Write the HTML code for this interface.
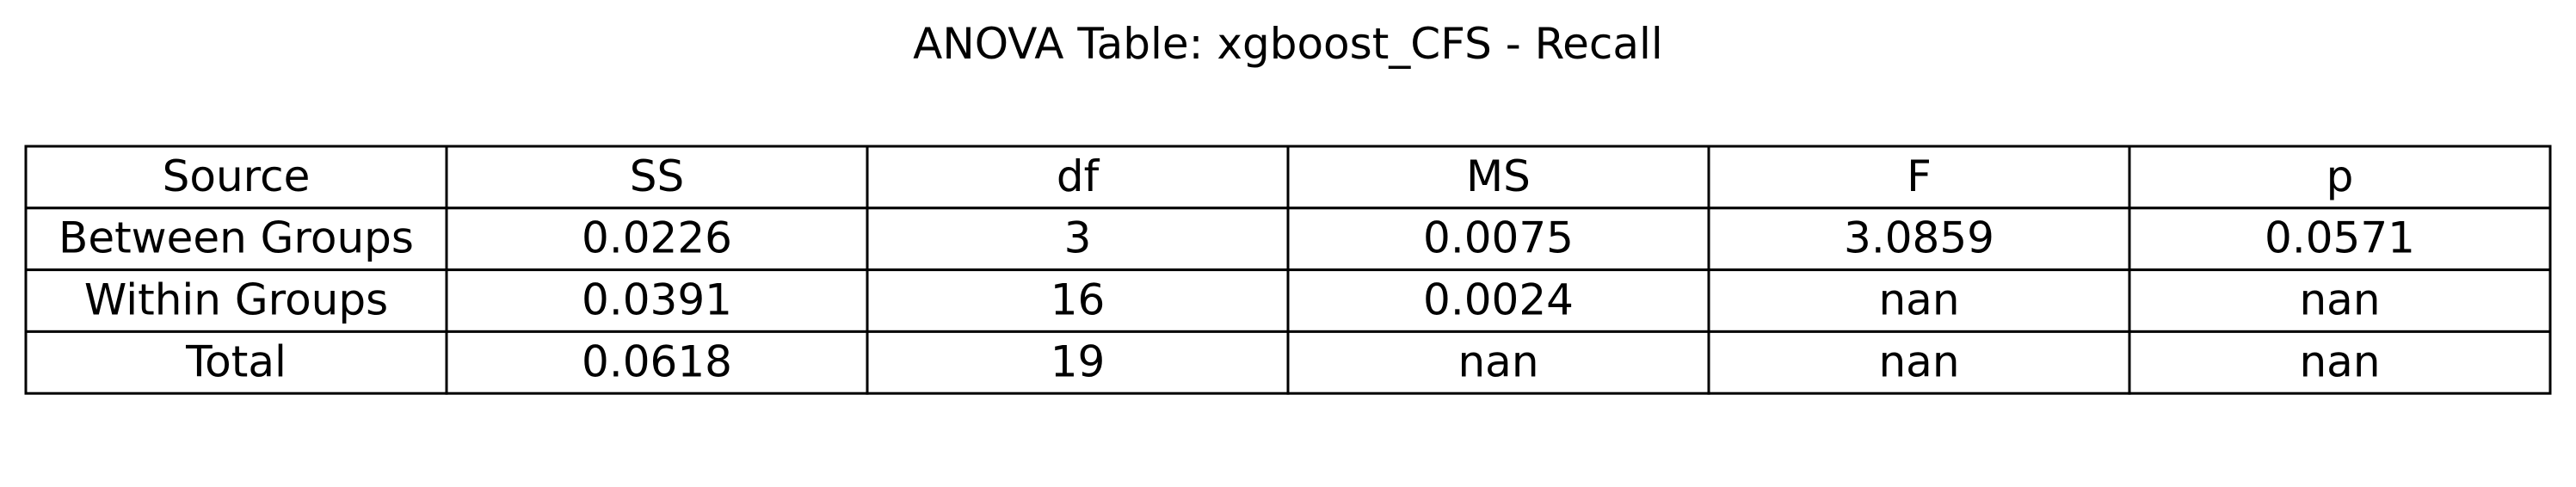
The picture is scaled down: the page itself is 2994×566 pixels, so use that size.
<!DOCTYPE html>
<html><head><meta charset="utf-8"><style>
html,body{margin:0;padding:0;background:#fff;}
svg{display:block;}
text{font-family:"DejaVu Sans","Liberation Sans",sans-serif;fill:#000;}
</style></head><body>
<svg id="chart" width="2994" height="566" viewBox="0 0 2994 566">
<text x="1497" y="68" text-anchor="middle" font-size="50">ANOVA Table: xgboost_CFS - Recall</text>
<g id="tbl"></g>
</svg>
<script>
const headers = ["Source","SS","df","MS","F","p"];
const rowSource = ["Between Groups","Within Groups","Total"];
const rowSS = ["0.0226","0.0391","0.0618"];
const rowDf = ["3","16","19"];
const rowMS = ["0.0075","0.0024","nan"];
const rowF = ["3.0859","nan","nan"];
const rowP = ["0.0571","nan","nan"];

const NS = "http://www.w3.org/2000/svg";
const tblG = document.getElementById("tbl");
const tLeft = 30, tTop = 170, colW = 489, rowH = 71.8;
const allRows = [headers];
for (let i = 0; i < rowSource.length; i++) allRows.push([rowSource[i], rowSS[i], rowDf[i], rowMS[i], rowF[i], rowP[i]]);
allRows.forEach((r, ri) => {
  r.forEach((v, ci) => {
    const rect = document.createElementNS(NS, "rect");
    rect.setAttribute("x", tLeft + ci * colW);
    rect.setAttribute("y", tTop + ri * rowH);
    rect.setAttribute("width", colW);
    rect.setAttribute("height", rowH);
    rect.setAttribute("fill", "#fff");
    rect.setAttribute("stroke", "#000");
    rect.setAttribute("stroke-width", "3");
    
    
    tblG.appendChild(rect);
  });
});
allRows.forEach((r, ri) => {
  r.forEach((v, ci) => {
    const t = document.createElementNS(NS, "text");
    t.setAttribute("x", tLeft + ci * colW + colW / 2);
    t.setAttribute("y", tTop + ri * rowH + rowH / 2 + 16);
    t.setAttribute("text-anchor", "middle");
    t.setAttribute("font-size", "50");
    t.textContent = v;
    
    
    tblG.appendChild(t);
  });
});
</script>
</body></html>
